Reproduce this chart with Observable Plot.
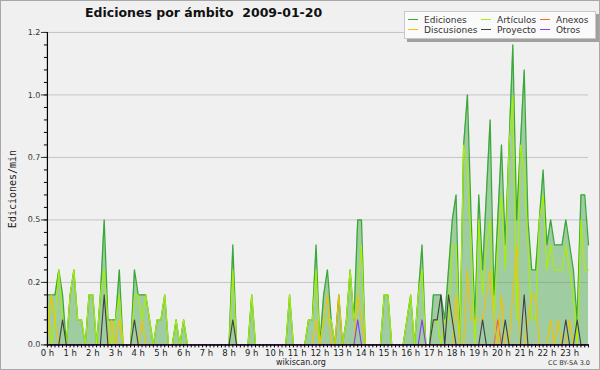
<!DOCTYPE html>
<html><head><meta charset="utf-8">
<script src="https://cdn.jsdelivr.net/npm/d3@7"></script>
<script src="https://cdn.jsdelivr.net/npm/@observablehq/plot@0.6"></script>
<style>
html,body{margin:0;padding:0;background:#f0f0f1;}
#wrap{position:relative;width:600px;height:370px;background:#f0f0f1;overflow:hidden;font-family:"DejaVu Sans",sans-serif;box-sizing:border-box;border:1px solid #a8a8a8;}
#chart{position:absolute;left:-1px;top:-1px;}
#title{position:absolute;left:84px;top:4px;font-weight:bold;font-size:12.5px;color:#111;white-space:pre;}
#ylabel{position:absolute;left:11px;top:188px;transform:translate(-50%,-50%) rotate(-90deg);font-family:"DejaVu Sans Mono",monospace;font-size:10px;color:#222;white-space:nowrap;}
#legend{position:absolute;left:403px;top:10px;width:190px;height:26px;background:#fafafa;border:1px solid #c8c8c8;box-shadow:3px 3px 0 #a0a0a0;font-size:9px;color:#333;}
.li{position:absolute;white-space:nowrap;line-height:10px;}
.li i{display:inline-block;width:10px;height:1.5px;vertical-align:middle;margin-right:6px;position:relative;top:-1px;}
#site{position:absolute;left:0;width:600px;top:356px;line-height:11px;text-align:center;font-size:8px;color:#222;}
#lic{position:absolute;right:9px;top:358px;line-height:9px;font-size:6.5px;color:#333;}
</style></head><body>
<div id="wrap">
<div id="chart"></div>
<div id="title">Ediciones por ámbito  2009-01-20</div>
<div id="ylabel">Ediciones/min</div>
<div id="legend"></div>
<div id="site">wikiscan.org</div>
<div id="lic">CC BY-SA 3.0</div>
</div>
<script>
// 10-minute slots of the day (144), values in edits per minute
const hourLabels = ["0 h","1 h","2 h","3 h","4 h","5 h","6 h","7 h","8 h","9 h","10 h","11 h","12 h","13 h","14 h","15 h","16 h","17 h","18 h","19 h","20 h","21 h","22 h","23 h"];
const yTicks = [0, 0.25, 0.5, 0.75, 1.0, 1.25];
const yTickLabels = ["0.0","0.2","0.5","0.7","1.0","1.2"];
const seriesNames = ["Ediciones","Artículos","Anexos","Discusiones","Proyecto","Otros"];
const seriesColors = ["#3aa83a","#a8f000","#f06a30","#f2c400","#404040","#8a3cf0"];

const ediciones = [
 .2,.2,.2,.3,.2,0,.2,.3,.1,.1,0,.2,
 .2,0,.2,.5,.1,.1,.1,.3,0,0,0,.3,
 .2,.2,.2,.1,0,.1,.1,.2,0,0,.1,0,
 .1,0,0,0,0,0,0,0,0,0,0,0,
 0,.4,0,0,0,0,.2,0,0,0,0,0,
 0,0,0,0,.2,0,0,0,0,.1,.1,.4,
 0,.2,.3,.1,0,.2,0,.1,.3,.1,.5,.5,
 0,0,0,0,0,.2,.2,0,0,0,0,.1,
 .2,0,.2,.4,0,0,.2,.2,.2,.1,.3,.5,
 .6,0,.8,1.0,.5,.1,.6,.3,.6,.9,.2,.5,
 .8,.4,.8,1.2,.5,.8,1.1,.5,.3,.3,.5,.7,
 .4,.5,.4,.4,.4,.5,.4,.3,.1,.6,.6,.4];
const articulos = [
 .2,0,.1,.3,.1,0,.2,.3,.1,.1,0,.2,
 .2,0,.2,.3,.1,0,.1,.2,0,0,0,.2,
 .2,.1,.2,.1,0,.1,.1,.2,0,0,.1,0,
 .1,0,0,0,0,0,0,0,0,0,0,0,
 0,.3,0,0,0,0,.2,0,0,0,0,0,
 0,0,0,0,.2,0,0,0,0,.1,.1,.3,
 0,.1,.1,.1,0,0,0,.1,.3,.1,.2,.4,
 0,0,0,0,0,.2,.2,0,0,0,0,.1,
 .2,0,.2,.3,0,0,.1,.1,0,.1,.1,.4,
 .4,0,.8,.7,.4,0,.5,.2,.4,.5,.1,.4,
 .6,.3,.8,1.0,.1,.8,.7,.4,.1,.1,.5,.6,
 .3,.4,.3,.3,.3,.4,.3,.2,0,.5,.3,.3];
const anexos = [
 0,0,0,0,0,0,0,0,0,0,0,0,
 0,0,0,0,0,0,0,0,0,0,0,0,
 0,0,0,0,0,0,0,0,0,0,0,0,
 0,0,0,0,0,0,0,0,0,0,0,0,
 0,0,0,0,0,0,0,0,0,0,0,0,
 0,0,0,0,0,0,0,0,0,0,0,0,
 0,0,0,0,0,0,0,0,0,0,0,0,
 0,0,0,0,0,0,0,0,0,0,0,0,
 0,0,0,0,0,0,0,0,0,0,0,0,
 0,0,0,0,0,0,0,0,0,0,0,.1,
 0,0,0,0,0,0,0,0,0,0,0,0,
 0,0,0,0,0,0,0,0,0,0,0,0];
const discusiones = [
 0,.2,.1,0,0,0,0,0,0,0,0,0,
 0,0,0,0,0,.1,0,.1,0,0,0,0,
 0,.1,0,0,0,0,0,0,0,0,0,0,
 0,0,0,0,0,0,0,0,0,0,0,0,
 0,0,0,0,0,0,0,0,0,0,0,0,
 0,0,0,0,0,0,0,0,0,0,0,.1,
 0,.1,.2,0,0,.2,0,0,0,0,.2,.1,
 0,0,0,0,0,0,0,0,0,0,0,0,
 0,0,0,0,0,0,0,0,0,0,0,0,
 .2,0,0,.3,.1,.1,.1,.1,.2,.3,.1,0,
 .2,0,0,.2,.4,0,0,.1,.2,.2,0,0,
 0,.1,0,.1,0,0,.1,0,0,0,0,0];
const proyecto = [
 0,0,0,0,.1,0,0,0,0,0,0,0,
 0,0,0,.2,0,0,0,0,0,0,0,.1,
 0,0,0,0,0,0,0,0,0,0,0,0,
 0,0,0,0,0,0,0,0,0,0,0,0,
 0,.1,0,0,0,0,0,0,0,0,0,0,
 0,0,0,0,0,0,0,0,0,0,0,0,
 0,0,0,0,0,0,0,0,0,0,0,0,
 0,0,0,0,0,0,0,0,0,0,0,0,
 0,0,0,0,0,0,.1,.1,.2,0,.2,.1,
 0,0,0,0,0,0,0,.1,0,0,0,0,
 0,.1,0,0,0,0,.2,0,0,0,0,0,
 0,0,0,0,0,.1,0,0,.1,0,0,0];
const otros = [
 0,0,0,0,0,0,0,0,0,0,0,0,
 0,0,0,0,0,0,0,0,0,0,0,0,
 0,0,0,0,0,0,0,0,0,0,0,0,
 0,0,0,0,0,0,0,0,0,0,0,0,
 0,0,0,0,0,0,0,0,0,0,0,0,
 0,0,0,0,0,0,0,0,0,0,0,0,
 0,0,0,0,0,0,0,0,0,0,.1,0,
 0,0,0,0,0,0,0,0,0,0,0,0,
 0,0,0,.1,0,0,0,0,0,0,0,0,
 0,0,0,0,0,0,0,0,0,0,0,0,
 0,0,0,0,0,0,0,0,0,0,0,0,
 0,0,0,0,0,0,0,0,0,0,0,0];

const seriesValues = [ediciones, articulos, anexos, discusiones, proyecto, otros];
const slots = ediciones.map((_, i) => i);           // slot index, 10 minutes each
const hourTicks = hourLabels.map((_, h) => h * 6);   // slot of each full hour
const minorY = d3.range(0, 1.2501, 0.05);

const rows = [];
seriesNames.forEach((name, s) => slots.forEach(i => rows.push({i, v: seriesValues[s][i], name})));
const edRows = slots.map(i => ({i, v: ediciones[i]}));

const lineMarks = seriesNames.map((n, s) => Plot.lineY(rows.filter(r => r.name === n), {
  x: "i", y: "v", stroke: seriesColors[s], strokeWidth: s === 0 ? 1.3 : 1.1, curve: "linear"
}));

const chart = Plot.plot({
  width: 600, height: 370,
  marginLeft: 47, marginRight: 11, marginTop: 32, marginBottom: 25,
  style: {background: "transparent", fontFamily: "DejaVu Sans, sans-serif", fontSize: "8px", color: "#333", overflow: "visible"},
  x: {domain: [0, 143], axis: null},
  y: {domain: [0, 1.25], axis: null},
  marks: [
    Plot.gridY(yTicks.slice(1), {stroke: "#c4c4c4", strokeOpacity: 1, strokeWidth: 1}),
    Plot.areaY(edRows, {x: "i", y: "v", fill: "#4aa54a", fillOpacity: 0.48, curve: "linear"}),
    ...lineMarks,
    Plot.axisY(minorY, {tickSize: 3, tickFormat: () => "", stroke: "#000", label: null}),
    Plot.axisY(yTicks, {tickSize: 6, tickPadding: 1, tickFormat: d => yTickLabels[yTicks.indexOf(d)], fill: "#333", fontSize: 8, label: null}),
    Plot.axisX(slots, {tickSize: 3, tickFormat: () => "", stroke: "#000", label: null}),
    Plot.axisX(hourTicks, {tickSize: 0, tickPadding: 5, tickFormat: d => hourLabels[hourTicks.indexOf(d)], fill: "#222", fontSize: 8.5, label: null}),
    Plot.ruleX([0], {stroke: "#000", strokeWidth: 1.2}),
    Plot.ruleY([0], {stroke: "#000", strokeWidth: 1.2})
  ]
});
document.getElementById("chart").appendChild(chart);

// legend (3 columns x 2 rows, in series order)
const leg = document.getElementById("legend");
const colX = [3, 76, 135];
seriesNames.forEach((n, k) => {
  const d = document.createElement("div");
  d.className = "li";
  d.style.left = colX[k % 3] + "px";
  d.style.top = (k < 3 ? 3 : 13) + "px";
  d.innerHTML = `<i style="background:${seriesColors[k]}"></i>${n}`;
  leg.appendChild(d);
});
</script>
</body></html>
